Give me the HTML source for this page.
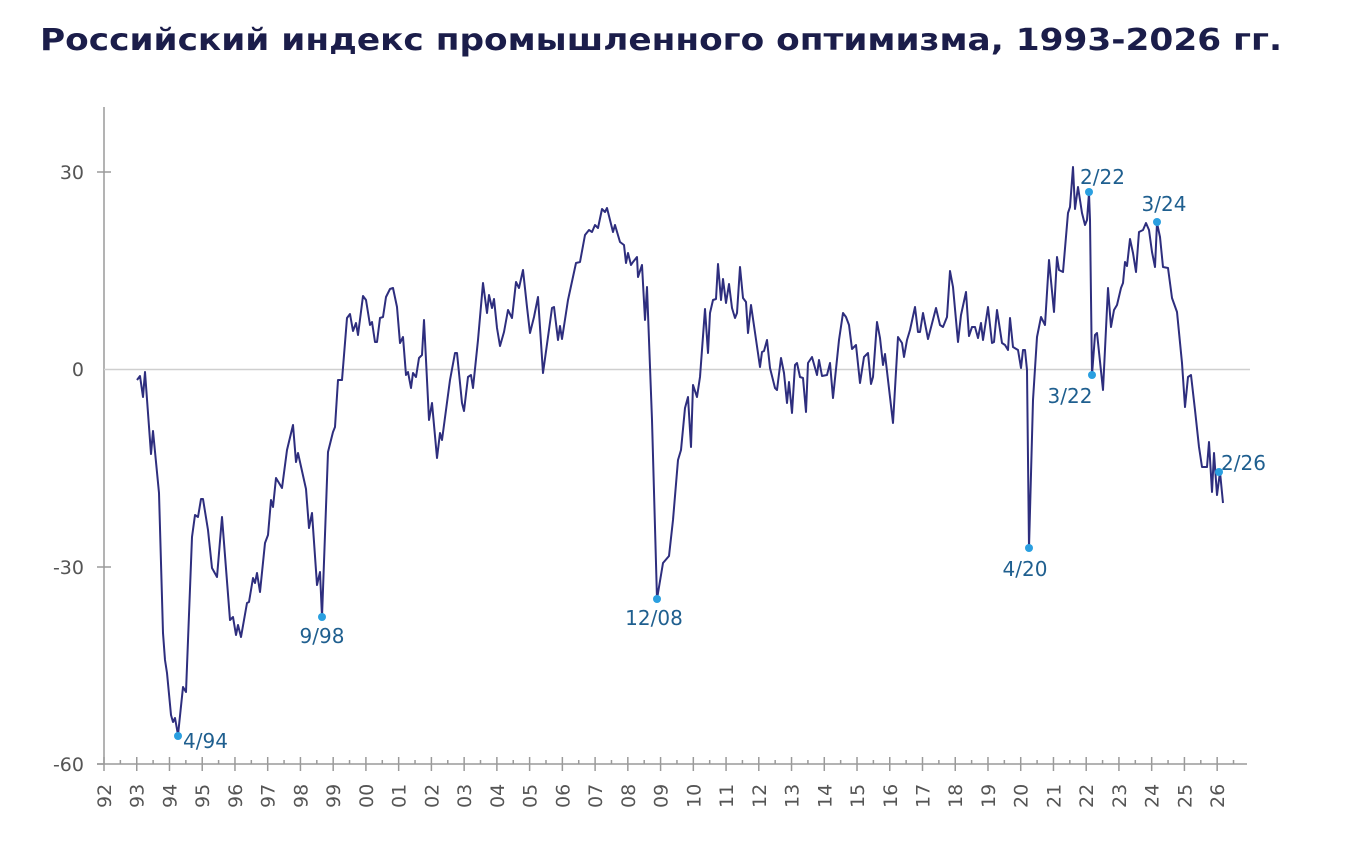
<!DOCTYPE html>
<html><head><meta charset="utf-8"><style>
html,body{margin:0;padding:0;background:#fff;}
svg{display:block;}
</style></head><body>
<svg width="1360" height="845" viewBox="0 0 1360 845" xmlns="http://www.w3.org/2000/svg">
<text x="40" y="50" font-family="DejaVu Sans, Liberation Sans, sans-serif" font-weight="bold" font-size="30" fill="#1b1d4a" textLength="1242" lengthAdjust="spacingAndGlyphs">Российский индекс промышленного оптимизма, 1993-2026 гг.</text>
<g stroke="#9a9a9a" stroke-width="1.5" fill="none">
<line x1="104" y1="107" x2="104" y2="764"/>
<line x1="97" y1="172" x2="111" y2="172"/>
<line x1="97" y1="567" x2="111" y2="567"/>
<line x1="97" y1="764" x2="104" y2="764"/>
<line x1="97" y1="764" x2="1247" y2="764"/>
</g>
<line x1="104" y1="369.5" x2="1250" y2="369.5" stroke="#cfcfcf" stroke-width="1.5"/>
<g font-family="DejaVu Sans, Liberation Sans, sans-serif" font-size="19" fill="#555" text-anchor="end">
<text x="84" y="179">30</text>
<text x="84" y="376">0</text>
<text x="84" y="574">-30</text>
<text x="84" y="771">-60</text>
</g>
<g id="ticks" stroke="#9a9a9a" stroke-width="1.5"></g>
<g id="xl" font-family="DejaVu Sans, Liberation Sans, sans-serif" font-size="19" fill="#555"></g>
<polyline fill="none" stroke="#2e2e7e" stroke-width="2" stroke-linejoin="round" points="137,380 140,376 143,397 145,372 151,454 153,431 159,493 163,633 165,660 167,673 171,715 173,722 175,718 178,735 183,687 186,692 192,537 195,515 198,517 201,499 203,499 208,530 212,568 217,577 222,517 230,620 233,617 236,635 238,625 241,637 247,603 249,602 253,578 255,583 257,573 260,592 265,543 268,535 271,500 273,507 276,478 282,488 287,450 293,425 296,462 298,453 306,489 309,528 312,513 317,585 320,572 322,617 328,452 333,432 335,427 338,380 342,380 347,318 350,314 353,331 356,323 358,335 363,296 366,300 370,325 372,322 375,342 377,342 380,318 383,317 386,297 390,289 393,288 397,307 400,343 403,337 406,375 408,372 411,388 413,373 416,377 419,358 422,355 424,320 429,420 432,403 437,458 440,433 442,440 450,380 455,353 457,353 462,403 464,411 468,377 471,375 473,388 478,340 483,283 487,313 489,295 492,308 494,299 497,328 500,346 504,332 508,310 512,318 516,282 519,288 523,270 527,307 530,333 534,317 538,297 543,373 552,308 554,307 558,340 560,326 562,339 568,300 576,263 580,262 585,235 589,230 592,232 595,225 598,228 602,209 605,212 607,208 613,232 615,225 620,242 624,245 626,263 628,253 631,265 633,262 637,257 638,277 642,265 645,320 647,287 652,420 657,599 663,563 669,556 673,520 678,460 681,450 685,408 688,397 691,447 693,385 697,397 700,377 705,309 708,353 710,313 713,300 716,299 718,264 721,300 723,279 726,303 729,284 732,308 735,318 737,313 740,267 743,298 746,302 748,333 751,305 760,367 762,352 764,351 767,340 770,368 775,388 777,390 781,358 784,373 787,403 789,382 792,413 795,365 797,363 800,377 803,378 806,412 808,363 812,357 817,375 819,360 822,376 827,375 830,363 833,398 839,340 843,313 846,317 849,325 852,349 856,345 860,383 864,357 868,353 871,384 873,377 877,322 880,338 883,365 885,354 893,423 898,337 902,343 904,357 907,340 910,330 915,307 918,332 920,332 923,313 928,339 936,308 940,325 943,327 947,317 950,271 953,287 958,342 961,315 966,292 969,336 972,327 975,327 978,338 981,323 983,340 988,307 992,343 994,342 997,310 1002,343 1005,345 1008,350 1010,318 1013,347 1018,350 1021,368 1023,350 1025,350 1027,370 1029,548 1033,400 1037,337 1041,317 1045,325 1049,260 1054,312 1057,257 1059,270 1063,272 1068,213 1070,207 1073,167 1075,209 1078,187 1082,213 1085,225 1087,220 1089,193 1090,220 1092,375 1095,335 1097,333 1103,390 1108,288 1111,327 1114,310 1117,305 1121,288 1123,283 1125,262 1127,266 1130,239 1133,253 1136,272 1139,232 1143,230 1146,223 1149,230 1152,252 1155,267 1157,223 1160,237 1163,267 1168,268 1172,298 1177,312 1182,363 1185,407 1188,377 1191,375 1195,410 1199,447 1202,467 1207,467 1209,442 1212,492 1214,453 1217,495 1220,472 1223,503"/>
<g fill="#2a9fe0">
<circle cx="178" cy="736" r="4"/>
<circle cx="322" cy="617" r="4"/>
<circle cx="657" cy="599" r="4"/>
<circle cx="1029" cy="548" r="4"/>
<circle cx="1089" cy="192" r="4"/>
<circle cx="1092" cy="375" r="4"/>
<circle cx="1157" cy="222" r="4"/>
<circle cx="1219" cy="472" r="4"/>
</g>
<g font-family="DejaVu Sans, Liberation Sans, sans-serif" font-size="20" fill="#1f5f8f">
<text x="183" y="748">4/94</text>
<text x="322" y="643" text-anchor="middle">9/98</text>
<text x="654" y="625" text-anchor="middle">12/08</text>
<text x="1025" y="576" text-anchor="middle">4/20</text>
<text x="1080" y="184">2/22</text>
<text x="1070" y="403" text-anchor="middle">3/22</text>
<text x="1164" y="211" text-anchor="middle">3/24</text>
<text x="1221" y="470">2/26</text>
</g>
<script>
(function(){
var t=document.getElementById('ticks'),l=document.getElementById('xl'),ns='http://www.w3.org/2000/svg';
for(var i=0;i<=34;i++){
 var x=104+i*32.74;
 var a=document.createElementNS(ns,'line');a.setAttribute('x1',x);a.setAttribute('x2',x);a.setAttribute('y1',757);a.setAttribute('y2',771);t.appendChild(a);
 var b=document.createElementNS(ns,'line');b.setAttribute('x1',x+16.37);b.setAttribute('x2',x+16.37);b.setAttribute('y1',760);b.setAttribute('y2',764);t.appendChild(b);
 var y=(92+i)%100;var s=(y<10?'0':'')+y;
 var tx=document.createElementNS(ns,'text');tx.setAttribute('transform','translate('+(x+7)+',808) rotate(-90)');tx.textContent=s;l.appendChild(tx);
}
})();
</script>
</svg>
</body></html>
